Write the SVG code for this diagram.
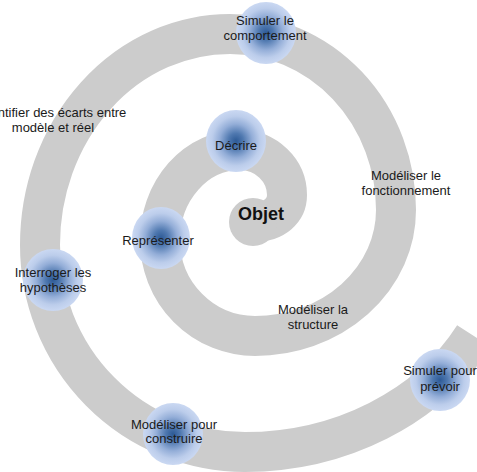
<svg xmlns="http://www.w3.org/2000/svg" width="477" height="472" viewBox="0 0 477 472">
<style>
.band{fill:none;stroke:#cccccc;stroke-width:40;stroke-linecap:butt}
.t{font-family:"Liberation Sans",Arial,sans-serif;font-size:13px;fill:#1a1a1a;text-anchor:middle}
.b{font-family:"Liberation Sans",Arial,sans-serif;font-size:18px;font-weight:bold;fill:#111;text-anchor:middle}
.n{fill:url(#g)}
</style>
<defs>
<radialGradient id="g" cx="0.5" cy="0.5" r="0.5">
<stop offset="0" stop-color="#2d5a96"/>
<stop offset="0.25" stop-color="#5079b0"/>
<stop offset="0.55" stop-color="#94aed8"/>
<stop offset="0.8" stop-color="#bccdeb"/>
<stop offset="1" stop-color="#cad8f2"/>
</radialGradient>
</defs>
<rect width="477" height="472" fill="#ffffff"/>
<g id="connectors">
<path class="band" d="M253,222 C275,222 287,210 287,195 A47 45 0 0 0 240,150 A80 90 0 0 0 160,240 A95 96 0 0 0 255,336 A141 126 0 0 0 396,210 A166 176 0 0 0 230,34 A190 211 0 0 0 40,245 A205 207 0 0 0 245,452 A261 222 0 0 0 474,336"/>
<circle cx="253" cy="222" r="24" fill="#cccccc"/>
</g>
<g id="objet"><text class="b" x="261" y="220">Objet</text></g>
<g id="decrire"><ellipse class="n" cx="236" cy="141" rx="30" ry="31"/><text class="t" x="236" y="150">Décrire</text></g>
<g id="representer"><ellipse class="n" cx="161" cy="238" rx="29" ry="31"/><text class="t" x="158" y="245">Représenter</text></g>
<g id="modeliser-structure"><text class="t" x="313" y="314">Modéliser la</text><text class="t" x="313" y="329">structure</text></g>
<g id="modeliser-fonctionnement"><text class="t" x="406" y="180">Modéliser le</text><text class="t" x="406" y="195">fonctionnement</text></g>
<g id="simuler-comportement"><ellipse class="n" cx="266" cy="33" rx="30" ry="31"/><text class="t" x="265" y="25">Simuler le</text><text class="t" x="265" y="40">comportement</text></g>
<g id="identifier-ecarts"><text class="t" x="53" y="117">Identifier des écarts entre</text><text class="t" x="53" y="132">modèle et réel</text></g>
<g id="interroger"><ellipse class="n" cx="53" cy="280" rx="30" ry="31"/><text class="t" x="53" y="277">Interroger les</text><text class="t" x="53" y="292">hypothèses</text></g>
<g id="modeliser-construire"><ellipse class="n" cx="173" cy="434" rx="30" ry="31"/><text class="t" x="174" y="429">Modéliser pour</text><text class="t" x="174" y="443">construire</text></g>
<g id="simuler-prevoir"><ellipse class="n" cx="440" cy="380" rx="30" ry="31"/><text class="t" x="440" y="375">Simuler pour</text><text class="t" x="440" y="391">prévoir</text></g>
</svg>
